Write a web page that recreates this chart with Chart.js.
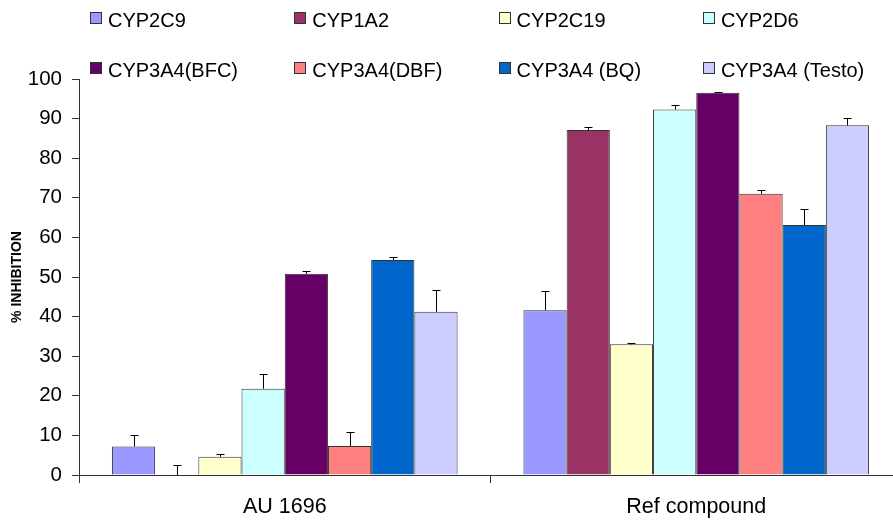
<!DOCTYPE html>
<html>
<head>
<meta charset="utf-8">
<script src="https://cdn.jsdelivr.net/npm/chart.js@4/dist/chart.umd.min.js"></script>
<style>
  html, body { margin: 0; padding: 0; overflow: hidden; background: #fff; }
  #wrap { position: relative; width: 893px; height: 522px; overflow: hidden; }
  #chart { position: absolute; left: 0; top: 0; }
  #legend { position: absolute; left: 0; top: 0; width: 893px; height: 80px; font-family: "Liberation Sans", Arial, sans-serif; font-size: 20px; line-height: 23px; color: #000; }
  .item { position: absolute; display: flex; align-items: flex-start; white-space: nowrap; }
  .swatch { width: 12px; height: 12px; border: 1px solid #333; margin: 3px 6px 0 0; box-sizing: border-box; }
</style>
</head>
<body>
<div id="wrap">
  <canvas id="chart" width="902" height="522"></canvas>
  <div id="legend"></div>
</div>
<script>
// Compounds tested
const categories = ['AU 1696', 'Ref compound'];

// CYP isoform assays
const isoforms = ['CYP2C9', 'CYP1A2', 'CYP2C19', 'CYP2D6',
                  'CYP3A4(BFC)', 'CYP3A4(DBF)', 'CYP3A4 (BQ)', 'CYP3A4 (Testo)'];
const isoformColors = ['#9999FF', '#993366', '#FFFFCC', '#CCFFFF',
                       '#660066', '#FF8080', '#0066CC', '#CCCCFF'];

// % inhibition per isoform (same order as isoforms)
const au1696 = [7.2, 0, 4.6, 21.8, 50.8, 7.3, 54.3, 41.2];
const refCompound = [41.6, 87.1, 33.0, 92.3, 96.5, 71.0, 63.1, 88.3];

// Standard deviation (upper error bar)
const au1696Err = [2.9, 2.5, 0.6, 3.6, 0.6, 3.6, 0.8, 5.4];
const refCompoundErr = [4.9, 0.7, 0.4, 1.1, 0.2, 1.0, 4.1, 1.8];

const yMin = 0, yMax = 100, yStep = 10;

const FONT = '"Liberation Sans", Arial, sans-serif';

const datasets = isoforms.map((name, i) => ({
  label: name,
  data: [au1696[i], refCompound[i]],
  errors: [au1696Err[i], refCompoundErr[i]],
  backgroundColor: isoformColors[i],
  borderColor: '#333333',
  borderWidth: 1,
  barPercentage: 1.0,
  categoryPercentage: 0.84
}));

// Upper error bars with caps, positioned through the value scale
const errorBars = {
  id: 'errorBars',
  afterDatasetsDraw(chart) {
    const ctx = chart.ctx;
    const y = chart.scales.y;
    ctx.save();
    ctx.strokeStyle = '#000';
    ctx.lineWidth = 1;
    chart.data.datasets.forEach((ds, di) => {
      const meta = chart.getDatasetMeta(di);
      meta.data.forEach((bar, j) => {
        const v = ds.data[j], e = ds.errors[j];
        if (!e) return;
        const x = Math.round(bar.x) + 0.5;
        const y0 = y.getPixelForValue(v);
        const y1 = Math.round(y.getPixelForValue(v + e)) + 0.5;
        ctx.beginPath();
        ctx.moveTo(x, y0);
        ctx.lineTo(x, y1);
        ctx.moveTo(x - 4, y1);
        ctx.lineTo(x + 4, y1);
        ctx.stroke();
      });
    });
    ctx.restore();
  }
};

new Chart(document.getElementById('chart'), {
  type: 'bar',
  data: { labels: categories, datasets },
  options: {
    responsive: false,
    animation: false,
    devicePixelRatio: 1,
    layout: { padding: { top: 79, left: 0, right: 0, bottom: 0 } },
    plugins: { legend: { display: false }, tooltip: { enabled: false } },
    scales: {
      x: {
        afterFit(s) { s.height = 47; s.paddingLeft = 0; s.paddingRight = 0; },
        grid: { drawOnChartArea: false, drawTicks: true, tickLength: 8, color: '#333', offset: true },
        border: { color: '#333', width: 1 },
        ticks: { color: '#000', font: { family: FONT, size: 21.5 }, padding: 11 }
      },
      y: {
        min: yMin, max: yMax,
        afterFit(s) { s.width = 79; s.paddingTop = 0; s.paddingBottom = 0; },
        grid: { drawOnChartArea: false, drawTicks: true, tickLength: 7, color: '#333' },
        border: { color: '#333', width: 1 },
        ticks: { stepSize: yStep, color: '#000', font: { family: FONT, size: 20.5 }, padding: 10 },
        title: { display: true, text: '% INHIBITION', color: '#000',
                 font: { family: FONT, size: 14, weight: 'bold' }, padding: { top: 9, bottom: 0 } }
      }
    }
  },
  plugins: [errorBars]
});

// Two-row legend, four columns
const legend = document.getElementById('legend');
isoforms.forEach((name, i) => {
  const item = document.createElement('div');
  item.className = 'item';
  item.style.left = (90 + (i % 4) * 204.3) + 'px';
  item.style.top = (i < 4 ? 8.5 : 58.5) + 'px';
  const sw = document.createElement('span');
  sw.className = 'swatch';
  sw.style.background = isoformColors[i];
  const tx = document.createElement('span');
  tx.textContent = name;
  item.appendChild(sw);
  item.appendChild(tx);
  legend.appendChild(item);
});
</script>
</body>
</html>
